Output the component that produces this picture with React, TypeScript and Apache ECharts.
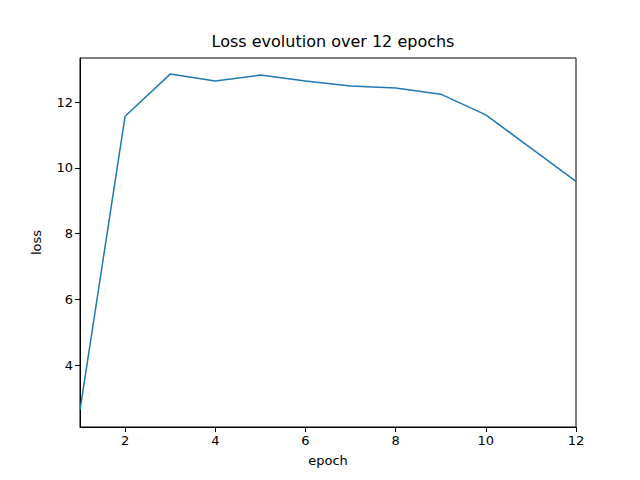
import React, { useEffect, useRef } from "react";
import * as echarts from "echarts";

const epochs = [1, 2, 3, 4, 5, 6, 7, 8, 9, 10, 11, 12];
const loss = [2.63, 11.57, 12.85, 12.64, 12.82, 12.64, 12.49, 12.43, 12.24, 11.61, 10.6, 9.59];
const xTicks = [2, 4, 6, 8, 10, 12];
const yTicks = [4, 6, 8, 10, 12];

export default function App() {
  const ref = useRef<HTMLDivElement>(null);
  useEffect(() => {
    const chart = echarts.init(ref.current!, null, { renderer: "svg" });
    const font = "DejaVu Sans";
    chart.setOption({
      animation: false,
      textStyle: { fontFamily: font },
      title: {
        text: "Loss evolution over 12 epochs",
        left: 328, top: 28, textAlign: "center",
        textStyle: { fontSize: 16, fontWeight: "normal", color: "#000", fontFamily: font },
      },
      grid: { left: 80, right: 64, top: 58, bottom: 53, show: true, borderColor: "#000", borderWidth: 1 },
      xAxis: {
        type: "value", min: 1, max: 12,
        name: "epoch", nameLocation: "middle", nameGap: 27,
        nameTextStyle: { fontSize: 13, color: "#000", fontFamily: font },
        axisLine: { lineStyle: { color: "#000" } },
        axisTick: { show: true, length: 5, customValues: xTicks, lineStyle: { color: "#000" } },
        axisLabel: { customValues: xTicks, fontSize: 13, color: "#000", margin: 7, fontFamily: font },
        splitLine: { show: false },
      },
      yAxis: {
        type: "value", min: 2.12, max: 13.34,
        name: "loss", nameLocation: "middle", nameGap: 37,
        nameTextStyle: { fontSize: 13, color: "#000", fontFamily: font },
        axisLine: { show: true, lineStyle: { color: "#000" } },
        axisTick: { show: true, length: 5, customValues: yTicks, lineStyle: { color: "#000" } },
        axisLabel: { customValues: yTicks, fontSize: 13, color: "#000", margin: 7, fontFamily: font },
        splitLine: { show: false },
      },
      series: [{
        type: "line",
        data: epochs.map((e, i) => [e, loss[i]]),
        showSymbol: false,
        lineStyle: { color: "#1f77b4", width: 1.5 },
        itemStyle: { color: "#1f77b4" },
      }],
    });
    return () => chart.dispose();
  }, []);
  return <div ref={ref} style={{ position: "fixed", left: 0, top: 0, width: 640, height: 480, background: "#fff" }} />;
}
